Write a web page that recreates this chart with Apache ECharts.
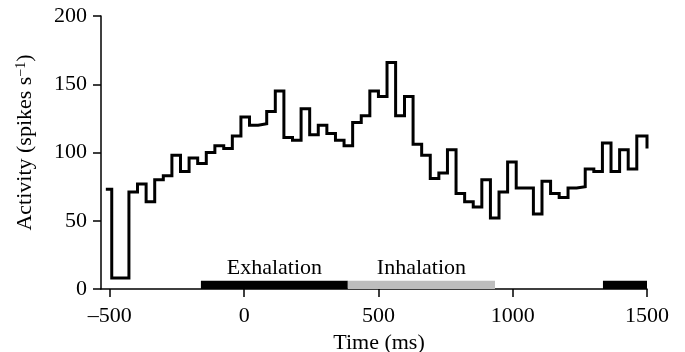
<!DOCTYPE html>
<html>
<head>
<meta charset="utf-8">
<script src="https://cdn.jsdelivr.net/npm/echarts@6/dist/echarts.min.js"></script>
<style>
    html, body { margin: 0; padding: 0; background: #fff; }
    #main { width: 685px; height: 352px; }
</style>
</head>
<body>
<div id="main"></div>
<script>
// left edge of each bin (ms), last entry is the end of the trace
var binStart = [-515, -493, -461, -429, -397, -365, -333, -301, -269, -237, -205, -173, -141, -109, -76, -44,
    -12, 20, 52, 84, 116, 148, 180, 212, 244, 276, 308, 340, 372, 404, 436, 468, 500, 532, 564, 597, 629,
    661, 693, 725, 757, 789, 821, 853, 885, 917, 949, 981, 1013, 1045, 1077, 1109, 1141, 1173, 1206, 1238,
    1270, 1302, 1334, 1366, 1398, 1430, 1462, 1500];
// firing rate in each bin (spikes/s)
var rate = [73, 8, 8, 71, 77, 64, 80, 83, 98, 86, 96, 92, 100, 105, 103, 112, 126, 120, 121, 130, 145, 111,
    109, 132, 113, 120, 114, 109, 105, 122, 127, 145, 141, 166, 127, 141, 106, 98, 81, 85, 102, 70, 64, 60,
    80, 52, 71, 93, 74, 74, 55, 79, 70, 67, 74, 75, 88, 86, 107, 86, 102, 88, 112, 103];

// respiration phases drawn on the time axis
var phaseStart = [-161, 386, 1336];
var phaseEnd = [386, 934, 1500];
var phaseName = ['Exhalation', 'Inhalation', 'Exhalation'];
var phaseLabel = ['Exhalation', 'Inhalation', ''];

var xTicks = [-500, 0, 500, 1000, 1500];
var yTicks = [0, 50, 100, 150, 200];

var FONT = 'Liberation Serif';
var phaseColor = { 'Exhalation': '#000000', 'Inhalation': '#bdbdbd' };

var myChart = echarts.init(document.getElementById('main'));

var lineData = [];
for (var i = 0; i < binStart.length; i++) {
    lineData.push([binStart[i], rate[i]]);
}

var areas = [];
for (var j = 0; j < phaseStart.length; j++) {
    areas.push([
        {
            name: phaseLabel[j],
            xAxis: phaseStart[j],
            yAxis: 0,
            itemStyle: { color: phaseColor[phaseName[j]], opacity: 1 }
        },
        { xAxis: phaseEnd[j], yAxis: 6 }
    ]);
}

var option = {
    backgroundColor: '#fff',
    animation: false,
    grid: { left: 101, right: 38, top: 16, bottom: 63, outerBoundsMode: 'none' },
    xAxis: {
        type: 'value',
        min: -533,
        max: 1500,
        name: 'Time (ms)',
        nameLocation: 'middle',
        nameGap: 36,
        nameTextStyle: { fontFamily: FONT, fontSize: 22, color: '#000', padding: [0, 0, 0, 10] },
        splitLine: { show: false },
        axisLine: { show: true, onZero: false, lineStyle: { color: '#000', width: 1.5 } },
        axisTick: { show: true, length: 8, customValues: xTicks, lineStyle: { color: '#000', width: 1.5 } },
        axisLabel: {
            customValues: xTicks,
            margin: 16,
            fontFamily: FONT, fontSize: 22, color: '#000',
            formatter: function (v) { return String(v).replace('-', '\u2013'); }
        }
    },
    yAxis: {
        type: 'value',
        min: 0,
        max: 200,
        name: 'Activity (spikes s{sup|\u22121})',
        nameLocation: 'middle',
        nameGap: 65,
        nameTextStyle: {
            fontFamily: FONT, fontSize: 22, color: '#000',
            padding: [0, 0, 0, 20],
            rich: { sup: { fontFamily: FONT, fontSize: 14, color: '#000', verticalAlign: 'top' } }
        },
        splitLine: { show: false },
        axisLine: { show: true, onZero: false, lineStyle: { color: '#000', width: 1.5 } },
        axisTick: { show: true, length: 8, customValues: yTicks, lineStyle: { color: '#000', width: 1.5 } },
        axisLabel: { customValues: yTicks, margin: 14, fontFamily: FONT, fontSize: 22, color: '#000' }
    },
    series: [
        {
            type: 'line',
            step: 'end',
            data: lineData,
            showSymbol: false,
            lineStyle: { color: '#000', width: 3, join: 'miter', cap: 'butt' },
            z: 3,
            markArea: {
                silent: true,
                label: {
                    show: true,
                    position: 'top',
                    distance: 2,
                    fontFamily: FONT, fontSize: 22, color: '#000'
                },
                data: areas
            }
        }
    ]
};

myChart.setOption(option);
</script>
</body>
</html>
